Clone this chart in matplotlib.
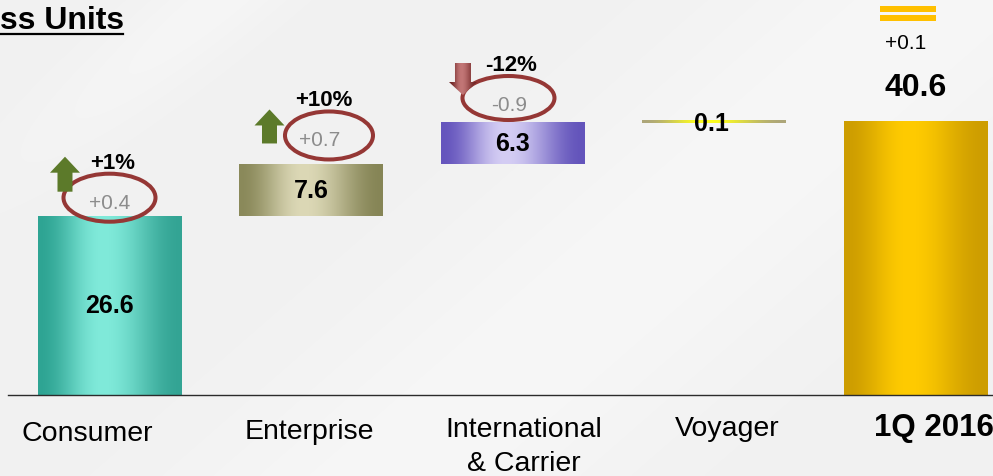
import numpy as np
import matplotlib
matplotlib.use("Agg")
import matplotlib.pyplot as plt
from matplotlib.patches import Ellipse, Polygon, Rectangle
from matplotlib.lines import Line2D
from matplotlib.colors import to_rgb
from matplotlib.transforms import IdentityTransform

# ---------------- data ----------------
categories = ["Consumer", "Enterprise", "International\n& Carrier", "Voyager", "1Q 2016"]
segment_values = [26.6, 7.6, 6.3, 0.1]
total_value = 40.6
yoy_change = ["+0.4", "+0.7", "-0.9"]
yoy_pct = ["+1%", "+10%", "-12%"]
yoy_direction = ["up", "up", "down"]
total_change = "+0.1"
title_text = "ss Units"

# ---------------- layout / style ----------------
W, H, DPI = 993, 477, 100
plt.rcParams['font.family'] = ['Liberation Sans', 'DejaVu Sans']

fig = plt.figure(figsize=(W / DPI, H / DPI), dpi=DPI)
fig.patch.set_facecolor('#F2F2F2')

# subtle background sheen
bg = fig.add_axes([0, 0, 1, 1], zorder=-5)
yy, xx = np.mgrid[0:1:240j, 0:1:480j]
u = xx + 0.55 * yy
sheen = (0.946 + 0.022 * np.exp(-((u - 0.95) / 0.22) ** 2)
         + 0.018 * np.exp(-((u - 0.22) / 0.07) ** 2) * np.exp(-(yy / 0.35) ** 2))
bg.imshow(np.dstack([np.clip(sheen, 0, 1)] * 3), extent=[0, 1, 0, 1], aspect='auto', origin='upper',
          interpolation='bilinear')
bg.axis('off')

ax = fig.add_axes([0, 0, 1, 1])
ax.patch.set_alpha(0)
XL = (-0.5434, 4.3847)
YL = (-12.02, 58.75)

xs = np.arange(len(categories))
bottoms = [0.0]
for v in segment_values[:-1]:
    bottoms.append(bottoms[-1] + v)
heights = list(segment_values) + [total_value]
bottoms = bottoms + [0.0]

bars = ax.bar(xs, heights, bottom=bottoms, width=0.71, color='none', edgecolor='none', zorder=2)

grad_colors = [
    ('#2EA493', '#80EADA', '#33A494'),
    ('#8A895A', '#DCD8B6', '#868556'),
    ('#6555BD', '#D4CDF4', '#6354BB'),
    ('#ADA67A', '#FFFF1E', '#ADA67A'),
    ('#CD9D00', '#FFCB00', '#CD9D00'),
]


def gradient(c0, c1, c2, n=256, mid=0.45):
    t = np.linspace(0, 1, n)
    rgb = np.array([to_rgb(c) for c in (c0, c1, c2)])
    stops = [0.0, mid, 1.0]
    s = np.where(t < mid, t / mid, (t - mid) / (1 - mid))
    s = 0.5 - 0.5 * np.cos(np.pi * s)
    tt = np.where(t < mid, mid * s, mid + (1 - mid) * s)
    arr = np.stack([np.interp(tt, stops, rgb[:, k]) for k in range(3)], axis=-1)
    return arr[None, :, :]


ypx = H / (YL[1] - YL[0])  # pixels per data unit
for i, rect in enumerate(bars):
    x0, w = rect.get_x(), rect.get_width()
    y0, h = rect.get_y(), rect.get_height()
    g = gradient(*grad_colors[i])
    if h * ypx < 3:
        top = y0 + h
        hv = 3.0 / ypx
        ax.imshow(g, extent=[x0, x0 + w, top - hv / 2, top + hv / 2], aspect='auto',
                  origin='lower', zorder=2, interpolation='bilinear')
    else:
        im = ax.imshow(g, extent=[x0, x0 + w, y0, y0 + h], aspect='auto',
                       origin='lower', zorder=2, interpolation='bilinear')
        im.set_clip_path(rect)

ax.set_xlim(*XL)
ax.set_ylim(*YL)
ax.axis('off')

# baseline
ax.axhline(0, xmin=8 / W, xmax=1, color='#2b2b2b', lw=1.0, zorder=3)

# value labels
for i, rect in enumerate(bars):
    y0, h = rect.get_y(), rect.get_height()
    if i < len(segment_values):
        if h * ypx < 3:
            ax.annotate(f"{heights[i]}", xy=(i, y0 + h), xytext=(-3, -2), textcoords='offset pixels',
                        ha='center', va='center', fontsize=18, fontweight='bold', zorder=5)
        else:
            ax.text(i, y0 + h / 2, f"{heights[i]}", ha='center', va='center',
                    fontsize=18, fontweight='bold', zorder=5)
    else:
        ax.annotate(f"{total_value}", xy=(i, y0 + h), xytext=(0, 34), textcoords='offset pixels',
                    ha='center', va='center', fontsize=23, fontweight='bold', zorder=5)
        ax.annotate(total_change, xy=(i, y0 + h), xytext=(-10, 79), textcoords='offset pixels',
                    ha='center', va='center', fontsize=15, zorder=5)

fig.canvas.draw()
inv = ax.transData.inverted()

# change annotations
pct_off = [(3.5, 53), (13, 65), (-1, 58)]
chg_off = [(0, 13), (9, 25), (-3, 18)]
ell_off = [(0, 18), (18, 29), (-4, 24)]
arr_off = [(-44.5, 24, 59), (-41.5, 21, 55), (-49.5, 27, 59)]
ell_size = [(92, 48), (88, 48), (92, 44)]

for i in range(3):
    rect = bars[i]
    top = rect.get_y() + rect.get_height()
    ax.annotate(yoy_pct[i], xy=(i, top), xytext=pct_off[i], textcoords='offset pixels',
                ha='center', va='center', fontsize=16, fontweight='bold', zorder=6)
    ax.annotate(yoy_change[i], xy=(i, top), xytext=chg_off[i], textcoords='offset pixels',
                ha='center', va='center', fontsize=15, color='#8C8C8C', zorder=6)
    cx, cy = ax.transData.transform((i, top))
    ex, ey = ell_off[i]
    ax.add_patch(Ellipse((cx + ex, cy + ey), ell_size[i][0], ell_size[i][1],
                         transform=IdentityTransform(), fill=False,
                         edgecolor='#953735', lw=2.9, zorder=6))
    ax_, lo, hi = arr_off[i]
    acx = cx + ax_
    if yoy_direction[i] == "up":
        hw, sw, hh = 30, 15, 16
        b, t = cy + lo, cy + hi
        pts = [(acx - sw / 2, b), (acx + sw / 2, b), (acx + sw / 2, t - hh), (acx + hw / 2, t - hh),
               (acx, t), (acx - hw / 2, t - hh), (acx - sw / 2, t - hh)]
        ax.add_patch(Polygon(pts, closed=True, transform=IdentityTransform(), facecolor='#5C7A2A',
                             edgecolor='none', zorder=6))
    else:
        hw, sw, hh = 28, 16, 13
        t, b = cy + hi, cy + lo  # t: top of shaft, b: tip
        pts = [(acx - sw / 2, t), (acx + sw / 2, t), (acx + sw / 2, b + hh), (acx + hw / 2, b + hh),
               (acx, b), (acx - hw / 2, b + hh), (acx - sw / 2, b + hh)]
        poly = Polygon(pts, closed=True, transform=IdentityTransform(), facecolor='none',
                       edgecolor='none', zorder=6)
        ax.add_patch(poly)
        (dx0, dy0) = inv.transform((acx - hw / 2, b))
        (dx1, dy1) = inv.transform((acx + hw / 2, t))
        gi = ax.imshow(gradient('#6A2020', '#C27676', '#702424', mid=0.45),
                       extent=[dx0, dx1, dy0, dy1], aspect='auto', origin='lower',
                       zorder=6, interpolation='bilinear')
        gi.set_clip_path(poly)

# "flat" marker above total
rect = bars[4]
cx, cy = ax.transData.transform((4, rect.get_y() + rect.get_height()))
for lo in (100, 109):
    ax.add_patch(Rectangle((cx - 35.5, cy + lo), 56, 6, transform=IdentityTransform(),
                           facecolor='#FFC000', edgecolor='none', zorder=6))

ax.set_xlim(*XL)
ax.set_ylim(*YL)

# category labels
cat_off = [(-22.5, -38), (-2, -36), (11.5, -51), (13.5, -33), (18.5, -32)]
cat_size = [20.5, 20.5, 20.5, 20.5, 22.5]
for i, lab in enumerate(categories):
    ax.annotate(lab, xy=(i, 0), xytext=cat_off[i], textcoords='offset pixels',
                ha='center', va='center', fontsize=cat_size[i], linespacing=1.38,
                fontweight='bold' if i == len(categories) - 1 else 'normal', zorder=5)

# title
fig.text(0, 1 - 21 / H, title_text, ha='left', va='center', fontsize=23, fontweight='bold')
fig.add_artist(Line2D([0, 123 / W], [1 - 35 / H, 1 - 35 / H], transform=fig.transFigure,
                      color='black', lw=1.6))

fig.savefig("out.png", dpi=DPI, facecolor=fig.get_facecolor())
